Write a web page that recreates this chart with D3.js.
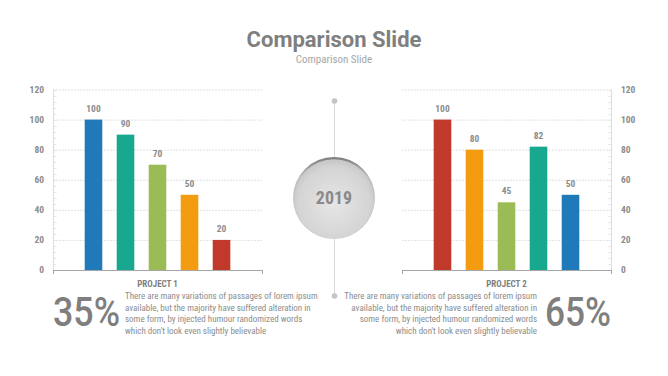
<!DOCTYPE html>
<html>
<head>
<meta charset="utf-8">
<script src="https://cdn.jsdelivr.net/npm/d3@7"></script>
<style>
  body { margin: 0; background: #fff; }
  svg text { font-family: "Roboto Condensed", "Liberation Sans Narrow", Roboto, sans-serif; }
</style>
</head>
<body>
<div id="chart"></div>
<script>
(function() {
  const width = 668, height = 376;

  // data
  const categories = ["A", "B", "C", "D", "E"];
  const project1Values = [100, 90, 70, 50, 20];
  const project2Values = [100, 80, 45, 82, 50];
  const project1Colors = ["#2079b8", "#17a88f", "#9bbb55", "#f39c12", "#c0392b"];
  const project2Colors = ["#c0392b", "#f39c12", "#9bbb55", "#17a88f", "#2079b8"];
  const yTicks = [0, 20, 40, 60, 80, 100, 120];
  const projectNames = ["PROJECT 1", "PROJECT 2"];
  const percents = ["35%", "65%"];
  const bodyLines = [
    "There are many variations of passages of lorem ipsum",
    "available, but the majority have suffered alteration in",
    "some form, by injected humour  randomized  words",
    "which don't  look even slightly believable"
  ];

  const svg = d3.select("#chart")
    .append("svg")
      .attr("width", width)
      .attr("height", height);

  const defs = svg.append("defs");
  const grad = defs.append("radialGradient")
    .attr("id", "ball")
    .attr("cx", "50%").attr("cy", "55%").attr("r", "60%");
  grad.append("stop").attr("offset", "0%").attr("stop-color", "#e6e6e6");
  grad.append("stop").attr("offset", "75%").attr("stop-color", "#d4d4d4");
  grad.append("stop").attr("offset", "100%").attr("stop-color", "#bfbfbf");
  const edge = defs.append("linearGradient")
    .attr("id", "edge").attr("x1", 0).attr("y1", 0).attr("x2", 0).attr("y2", 1);
  edge.append("stop").attr("offset", "0%").attr("stop-color", "#7d7d7d");
  edge.append("stop").attr("offset", "25%").attr("stop-color", "#bdbdbd");
  edge.append("stop").attr("offset", "100%").attr("stop-color", "#d0d0d0");

  // title
  svg.append("text")
    .attr("x", 334).attr("y", 47)
    .attr("text-anchor", "middle")
    .style("font-family", "Roboto, sans-serif")
    .style("font-size", "22px").style("font-weight", "bold")
    .attr("fill", "#7f7f7f")
    .text("Comparison Slide");
  svg.append("text")
    .attr("x", 334).attr("y", 63)
    .attr("text-anchor", "middle")
    .style("font-size", "11px")
    .attr("fill", "#a6a6a6")
    .text("Comparison Slide");

  const y = d3.scaleLinear().domain([0, 120]).range([270, 89.5]);

  function drawChart(x0, x1, values, colors, side) {
    const x = d3.scaleBand()
      .domain(categories)
      .range([x0, x1])
      .paddingInner(0.45)
      .paddingOuter(0.99);

    const g = svg.append("g");

    // grid
    g.selectAll(".grid")
      .data(yTicks.filter(d => d > 0))
      .enter().append("line")
        .attr("x1", x0).attr("x2", x1)
        .attr("y1", d => y(d) + 0.5).attr("y2", d => y(d) + 0.5)
        .attr("stroke", "#e2e2e2")
        .attr("stroke-dasharray", "2,1");

    // value axis
    const axisX = side === "left" ? x0 : x1;
    g.append("line")
      .attr("x1", axisX + 0.5).attr("x2", axisX + 0.5)
      .attr("y1", y(120)).attr("y2", y(0))
      .attr("stroke", "#dcdcdc");
    const minor = d3.range(0, 121, 4);
    g.selectAll(".minor")
      .data(minor)
      .enter().append("line")
        .attr("x1", axisX + 0.5)
        .attr("x2", side === "left" ? axisX + 3.5 : axisX - 2.5)
        .attr("y1", d => Math.round(y(d)) + 0.5)
        .attr("y2", d => Math.round(y(d)) + 0.5)
        .attr("stroke", "#e4e4e4");

    g.selectAll(".ylab")
      .data(yTicks)
      .enter().append("text")
        .attr("x", side === "left" ? axisX - 9 : axisX + 10)
        .attr("y", d => y(d))
        .attr("dy", "0.35em")
        .attr("text-anchor", side === "left" ? "end" : "start")
        .style("font-size", "9.5px").style("font-weight", "bold")
        .attr("fill", "#8c8c8c")
        .text(d => d);

    // category axis
    g.append("line")
      .attr("x1", x0).attr("x2", x1)
      .attr("y1", y(0) + 0.5).attr("y2", y(0) + 0.5)
      .attr("stroke", "#a6a6a6");
    g.selectAll(".endtick")
      .data([x0, x1])
      .enter().append("line")
        .attr("x1", d => d + 0.5).attr("x2", d => d + 0.5)
        .attr("y1", y(0)).attr("y2", y(0) + 4)
        .attr("stroke", "#a6a6a6");

    // bars
    g.selectAll(".bar")
      .data(values)
      .enter().append("rect")
        .attr("x", (d, i) => x(categories[i]))
        .attr("y", d => y(d))
        .attr("width", x.bandwidth())
        .attr("height", d => y(0) - y(d))
        .attr("fill", (d, i) => colors[i]);

    g.selectAll(".val")
      .data(values)
      .enter().append("text")
        .attr("x", (d, i) => x(categories[i]) + x.bandwidth() / 2)
        .attr("y", d => y(d) - 8)
        .attr("text-anchor", "middle")
        .style("font-size", "9.5px").style("font-weight", "bold")
        .attr("fill", "#8c8c8c")
        .text(d => d);

    return (x0 + x1) / 2;
  }

  const c1 = drawChart(53, 262, project1Values, project1Colors, "left");
  const c2 = drawChart(402, 611, project2Values, project2Colors, "right");

  svg.selectAll(".proj")
    .data([c1, c2])
    .enter().append("text")
      .attr("x", d => d)
      .attr("y", 287)
      .attr("text-anchor", "middle")
      .style("font-size", "9px").style("font-weight", "bold")
      .attr("fill", "#7f7f7f")
      .text((d, i) => projectNames[i]);

  // center timeline
  svg.append("line")
    .attr("x1", 334.5).attr("x2", 334.5)
    .attr("y1", 101).attr("y2", 296)
    .attr("stroke", "#dadada");
  svg.selectAll(".dot")
    .data([101, 296])
    .enter().append("circle")
      .attr("cx", 334.5).attr("cy", d => d).attr("r", 2.8)
      .attr("fill", "#c4c4c4");

  svg.append("circle")
    .attr("cx", 334).attr("cy", 198).attr("r", 41)
    .attr("fill", "url(#edge)");
  svg.append("circle")
    .attr("cx", 334).attr("cy", 199).attr("r", 39.8)
    .attr("fill", "url(#ball)");
  svg.append("text")
    .attr("x", 334).attr("y", 198)
    .attr("dy", "0.36em")
    .attr("text-anchor", "middle")
    .style("font-size", "18px").style("font-weight", "bold")
    .attr("fill", "#8a8a8a")
    .text("2019");

  // percentages
  svg.append("text")
    .attr("x", 53).attr("y", 326)
    .attr("textLength", 67).attr("lengthAdjust", "spacingAndGlyphs")
    .style("font-family", "Roboto, sans-serif")
    .style("font-size", "40px").style("font-weight", 500)
    .attr("fill", "#7f7f7f")
    .text(percents[0]);
  svg.append("text")
    .attr("x", 545).attr("y", 326)
    .attr("textLength", 66).attr("lengthAdjust", "spacingAndGlyphs")
    .style("font-family", "Roboto, sans-serif")
    .style("font-size", "40px").style("font-weight", 500)
    .attr("fill", "#7f7f7f")
    .text(percents[1]);

  // paragraphs
  const lineY = [299, 311, 322, 334];
  svg.selectAll(".pl")
    .data(bodyLines)
    .enter().append("text")
      .attr("x", 125).attr("y", (d, i) => lineY[i])
      .style("font-size", "9px")
      .attr("fill", "#8c8c8c")
      .text(d => d);
  svg.selectAll(".pr")
    .data(bodyLines)
    .enter().append("text")
      .attr("x", 537).attr("y", (d, i) => lineY[i])
      .attr("text-anchor", "end")
      .style("font-size", "9px")
      .attr("fill", "#8c8c8c")
      .text(d => d);
})();
</script>
</body>
</html>
